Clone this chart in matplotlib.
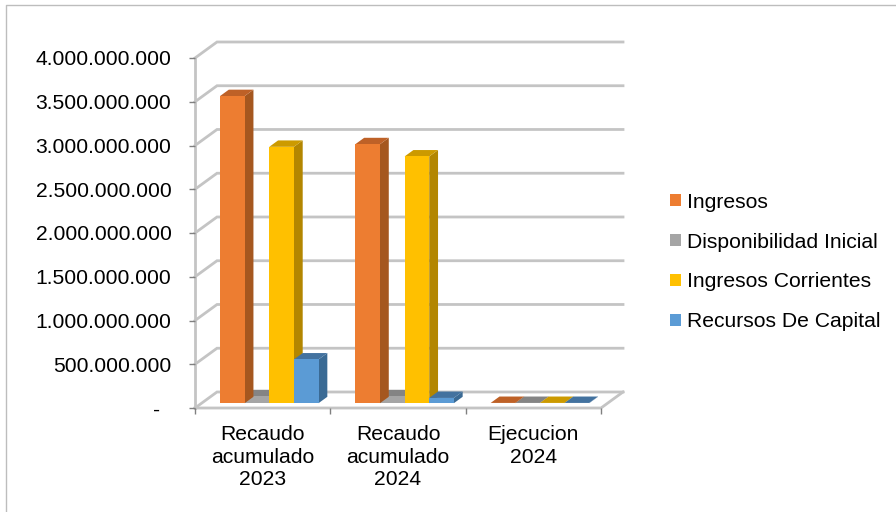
"""Recaudo por categoria: columnas agrupadas con efecto 3D."""

import matplotlib

matplotlib.use("Agg")
import matplotlib.pyplot as plt
from matplotlib.lines import Line2D
from matplotlib.patches import Patch, Polygon

categories = ["Recaudo\nacumulado\n2023", "Recaudo\nacumulado\n2024", "Ejecucion\n2024"]
series_names = ["Ingresos", "Disponibilidad Inicial", "Ingresos Corrientes", "Recursos De Capital"]
ingresos = [3.51e9, 2.96e9, 3e6]
disponibilidad = [0.08e9, 0.08e9, 3e6]
corrientes = [2.93e9, 2.82e9, 3e6]
capital = [0.50e9, 0.06e9, 3e6]
y_ticks = [0, 5e8, 1e9, 1.5e9, 2e9, 2.5e9, 3e9, 3.5e9, 4e9]
y_labels = ["-  ", "500.000.000", "1.000.000.000", "1.500.000.000", "2.000.000.000",
            "2.500.000.000", "3.000.000.000", "3.500.000.000", "4.000.000.000"]

front = ["#ED7D31", "#A5A5A5", "#FFC000", "#5B9BD5"]
side = ["#A5571F", "#737373", "#B38600", "#3A6A94"]
top = ["#BE6127", "#848484", "#CC9A00", "#43729F"]

# oblique depth of the floor, in data units
DX = 0.1626
DY = 1.83e8
D0, D1 = 0.3, 0.7
GROUP_START = 0.136
BAR_W = 0.182

W, H = 896, 512
plt.rcParams["font.family"] = ["Liberation Sans", "DejaVu Sans"]
fig = plt.figure(figsize=(W / 100, H / 100), dpi=100)
ax = fig.add_axes([195 / W, 1 - 408 / H, (601 - 195) / W, (408 - 58) / H])
ax.set_xlim(0, 3)
ax.set_ylim(0, 4e9)
for s in ax.spines.values():
    s.set_visible(False)
ax.patch.set_visible(False)

# outer frame of the pasted picture
fig.add_artist(Line2D([6 / W, 6 / W, 1], [0, 1 - 5 / H, 1 - 5 / H], color="#BDBDBD", lw=1))

GRID = "#C4C4C4"
for v in y_ticks:
    ax.plot([0, DX, 3 + DX], [v, v + DY, v + DY], color=GRID, lw=2.0, clip_on=False,
            zorder=1, solid_joinstyle="miter")
ax.plot([0, 0], [0, 4e9], color=GRID, lw=2.0, clip_on=False, zorder=1)
ax.plot([0, 3, 3 + DX], [0, 0, DY], color=GRID, lw=2.0, clip_on=False, zorder=1,
        solid_joinstyle="miter")


def bar3d(x0, value, idx, z):
    x1 = x0 + BAR_W
    b0 = D0 * DY
    b1 = D1 * DY
    sx0 = D0 * DX
    sx1 = D1 * DX
    y0, y1 = b0, b0 + value
    ax.add_patch(Polygon([(x1 + sx0, y0), (x1 + sx1, b1), (x1 + sx1, b1 + value), (x1 + sx0, y1)],
                         fc=side[idx], ec="none", clip_on=False, zorder=z))
    ax.add_patch(Polygon([(x0 + sx0, y1), (x1 + sx0, y1), (x1 + sx1, b1 + value), (x0 + sx1, b1 + value)],
                         fc=top[idx], ec="none", clip_on=False, zorder=z))
    ax.add_patch(Polygon([(x0 + sx0, y0), (x1 + sx0, y0), (x1 + sx0, y1), (x0 + sx0, y1)],
                         fc=front[idx], ec="none", clip_on=False, zorder=z))


values = [ingresos, disponibilidad, corrientes, capital]
# gray goes first: the orange side sits over it in the reference
for z, idx in enumerate([1, 0, 2, 3]):
    for c in range(len(categories)):
        bar3d(c + GROUP_START + idx * BAR_W, values[idx][c], idx, 3 + z)

ax.set_yticks(y_ticks)
ax.set_yticklabels(y_labels, fontsize=15.2)
ax.tick_params(axis="y", length=4, width=1, color="#808080", pad=13, labelcolor="black")
ax.set_xticks([0, 1, 2, 3])
ax.set_xticklabels([])
ax.set_xticks([0.5, 1.5, 2.5], categories, minor=True, fontsize=15.2, linespacing=1.22)
ax.tick_params(axis="x", which="major", length=4, width=1, color="#808080")
ax.tick_params(axis="x", which="minor", length=0, pad=12.5)

handles = [Patch(fc=c, ec="none", label=n) for c, n in zip(front, series_names)]
fig.legend(handles=handles, loc="center left", bbox_to_anchor=(670 / W, 1 - 262 / H), frameon=False,
           fontsize=15.2, handlelength=0.52, handleheight=0.52, handletextpad=0.3, labelspacing=0.99,
           borderpad=0, borderaxespad=0)

fig.savefig("out.png", dpi=100)
